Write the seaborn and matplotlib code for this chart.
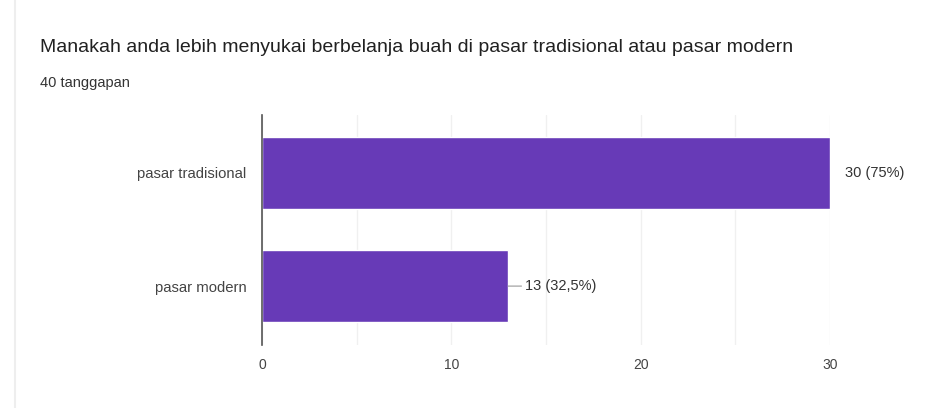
import matplotlib
matplotlib.use("Agg")
import matplotlib.pyplot as plt
import pandas as pd
import seaborn as sns

# Data
categories = ["pasar tradisional", "pasar modern"]
counts = [30, 13]
labels = ["30 (75%)", "13 (32,5%)"]
title = "Manakah anda lebih menyukai berbelanja buah di pasar tradisional atau pasar modern"
subtitle = "40 tanggapan"
xticks = [0, 10, 20, 30]

df = pd.DataFrame({"kategori": categories, "jumlah": counts})

sns.set_style("white")
plt.rcParams["font.family"] = ["Liberation Sans", "DejaVu Sans"]

fig = plt.figure(figsize=(9.25, 4.08), dpi=100)
ax = fig.add_axes([0.2832, 0.1544, 0.6141, 0.5637])

sns.barplot(data=df, x="jumlah", y="kategori", color="#673ab7", width=0.64,
            saturation=1, ax=ax, zorder=3)

ax.set_xlim(0, 30)
ax.set_ylim(1.52, -0.51)
ax.set_xticks(range(0, 31, 5))
ax.set_xticklabels([str(v) if v in xticks else "" for v in range(0, 31, 5)])
ax.grid(axis="x", color="#f0f0f0", linewidth=1, zorder=0)
ax.tick_params(axis="y", length=0, labelsize=10.7, colors="#444444", pad=11)
ax.tick_params(axis="x", length=0, labelsize=10, colors="#444444", pad=9)
for s in ["top", "right", "bottom"]:
    ax.spines[s].set_visible(False)
ax.spines["left"].set_color("#555555")
ax.spines["left"].set_linewidth(1.2)
ax.spines["left"].set_zorder(4)
ax.set_xlabel("")
ax.set_ylabel("")

# Value labels
for i, (c, lab) in enumerate(zip(counts, labels)):
    if c < 20:
        ax.annotate(lab, xy=(c, i), xytext=(12, 0), textcoords="offset points",
                    va="center", ha="left", fontsize=10.5, color="#333333",
                    arrowprops=dict(arrowstyle="-", color="#999999", lw=0.8,
                                    shrinkA=0, shrinkB=0))
    else:
        ax.annotate(lab, xy=(c, i), xytext=(11, 0), textcoords="offset points",
                    va="center", ha="left", fontsize=10.5, color="#333333")

fig.text(40 / 925, 1 - 47 / 408, title, fontsize=14, color="#212121", va="center")
fig.text(40 / 925, 1 - 83 / 408, subtitle, fontsize=10.5, color="#333333", va="center")

# faint card border on the left
fig.add_artist(plt.Line2D([15 / 925, 15 / 925], [0, 1], color="#eeeeee", lw=1.5))

fig.savefig("out.png", dpi=100)
